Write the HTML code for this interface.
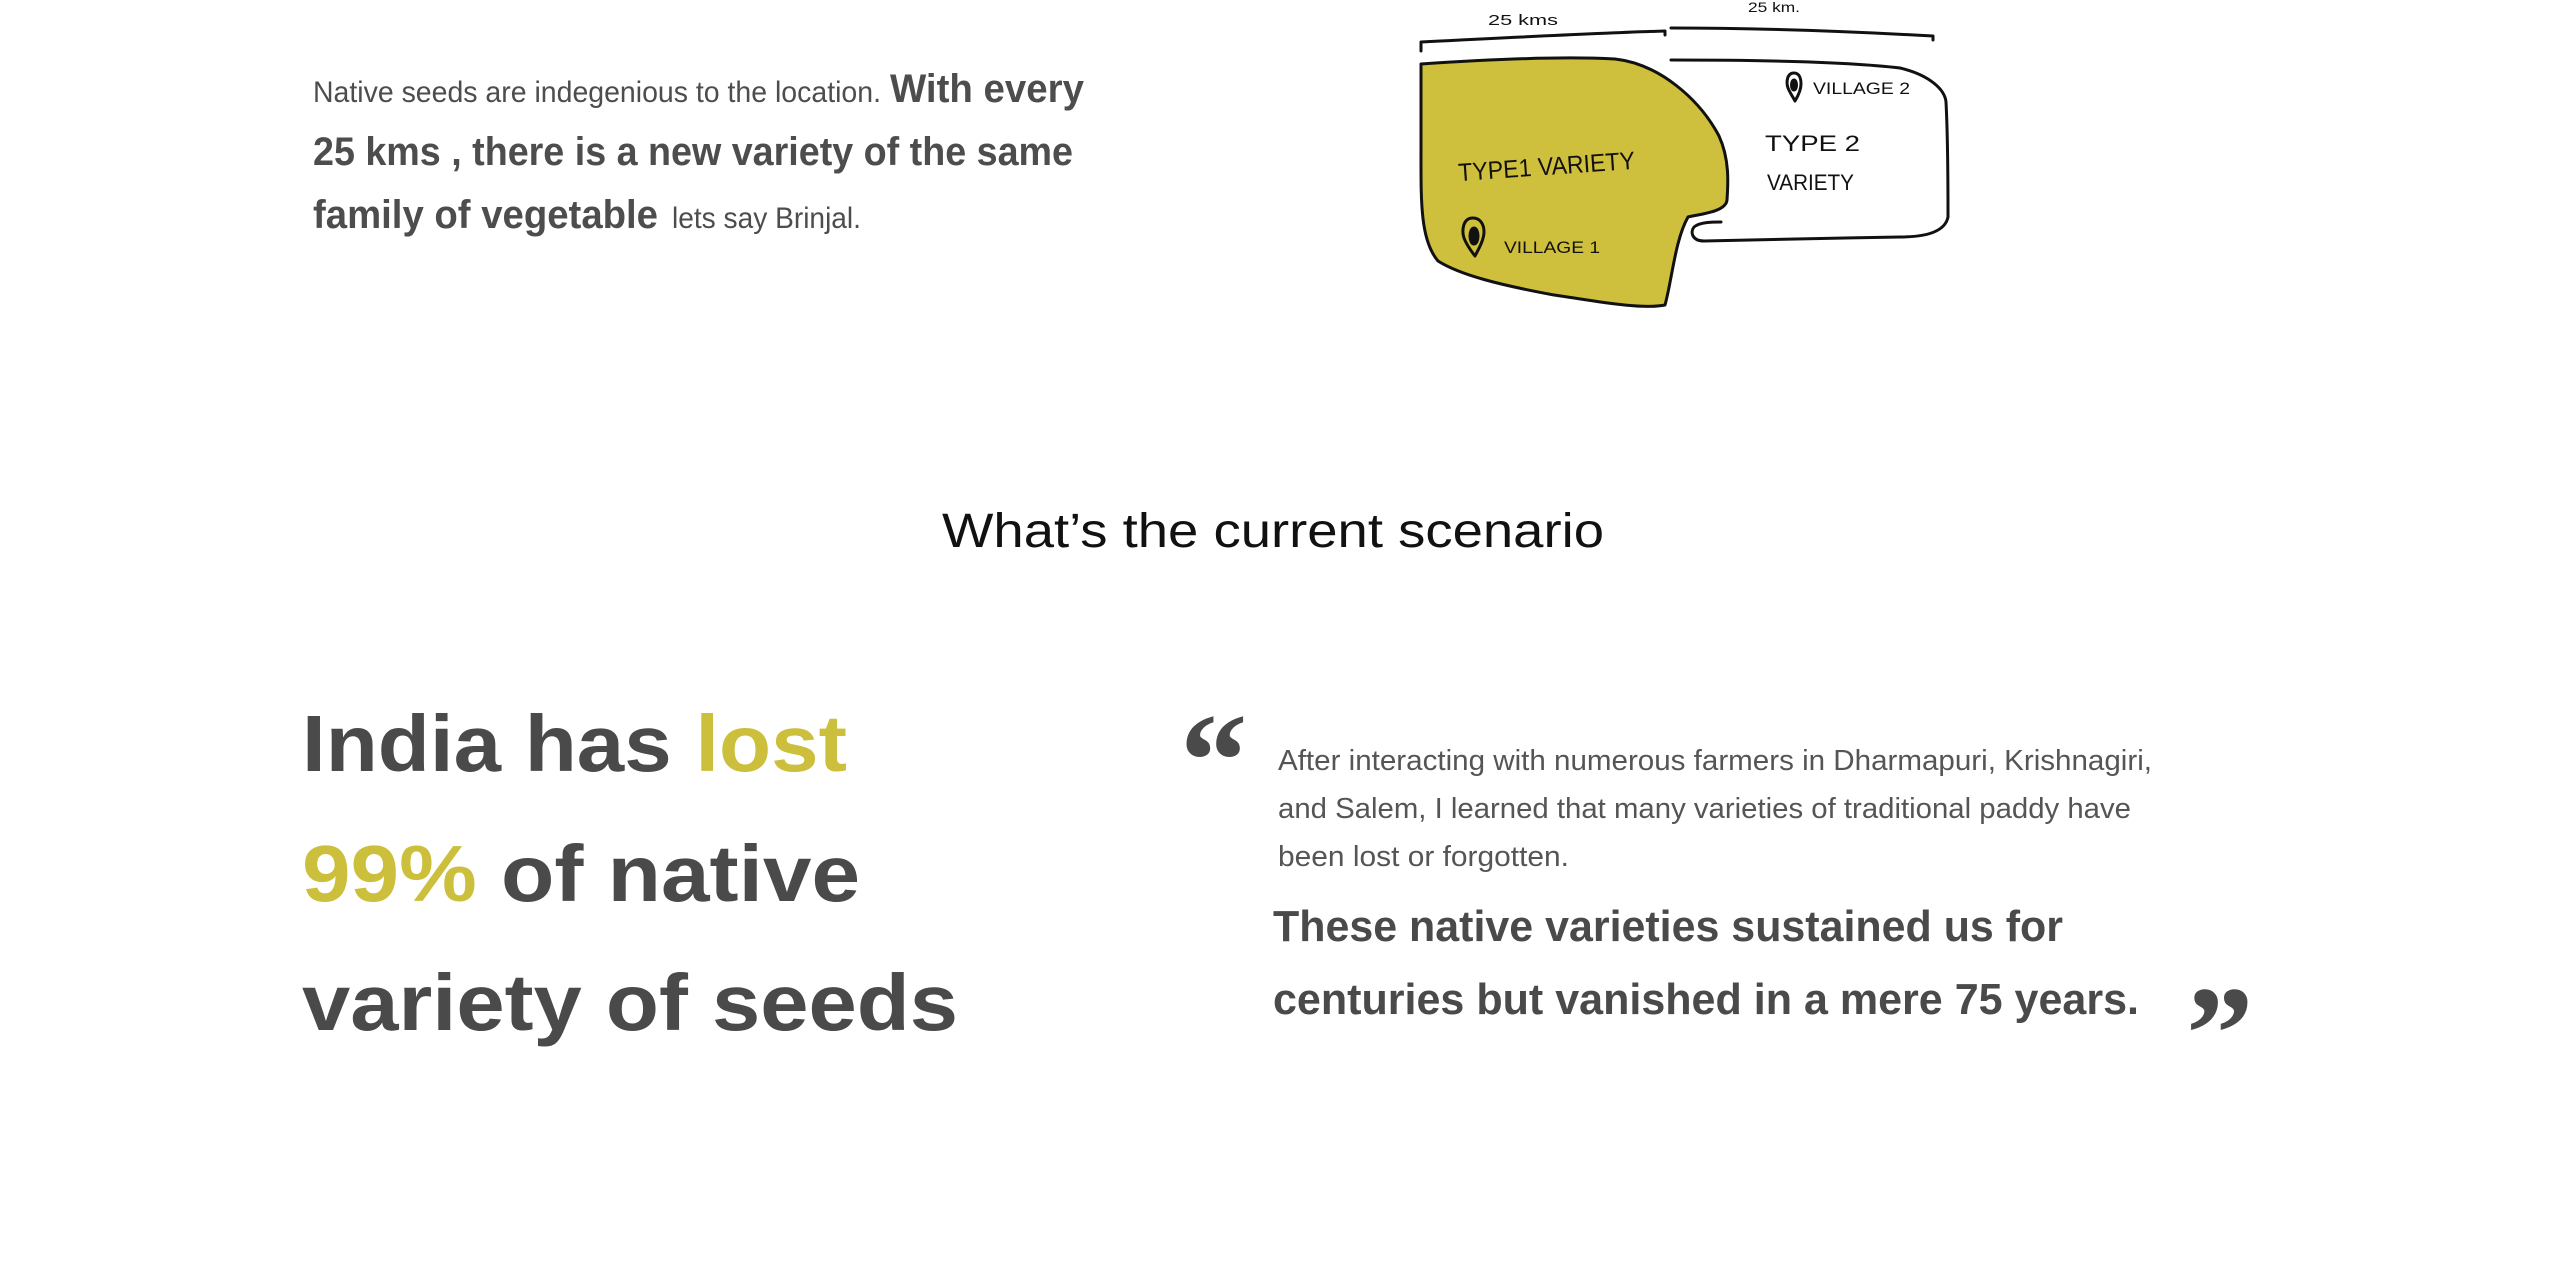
<!DOCTYPE html>
<html><head><meta charset="utf-8"><style>
html,body{margin:0;padding:0;background:#fff;}
svg{display:block;}
</style></head><body>
<svg width="2560" height="1263" viewBox="0 0 2560 1263" xmlns="http://www.w3.org/2000/svg">
<rect width="2560" height="1263" fill="#fff"/>
<g fill="#4d4d4d" font-family="Liberation Sans, sans-serif">
<text x="313" y="102" font-size="30" textLength="568" lengthAdjust="spacingAndGlyphs">Native seeds are indegenious to the location.</text>
<text x="890" y="102" font-size="40" font-weight="bold" textLength="194" lengthAdjust="spacingAndGlyphs">With every</text>
<text x="313" y="165" font-size="40" font-weight="bold" textLength="760" lengthAdjust="spacingAndGlyphs">25 kms , there is a new variety of the same</text>
<text x="313" y="228" font-size="40" font-weight="bold" textLength="345" lengthAdjust="spacingAndGlyphs">family of vegetable</text>
<text x="672" y="228" font-size="30" textLength="189" lengthAdjust="spacingAndGlyphs">lets say Brinjal.</text>
</g>
<g fill="none" stroke="#111" stroke-width="3" stroke-linecap="round" stroke-linejoin="round">
<path d="M1421 64 C1480 60 1560 56 1615 59 C1660 64 1700 100 1719 136 C1730 160 1728 185 1727 200 C1726 212 1700 214 1688 217 C1675 240 1672 280 1665 305 C1640 310 1590 300 1554 295 C1500 285 1460 275 1438 261 C1420 240 1421 200 1421 150 Z" fill="#cebf3d"/>
<path d="M1671 60 C1760 60 1850 62 1900 68 C1930 75 1945 90 1946 102 C1948 140 1948 190 1948 217 C1945 232 1925 237 1900 237 C1830 238 1750 240 1704 241 C1692 241 1690 232 1694 227 C1700 222 1712 222 1721 222"/>
<path d="M1421 51 L1421 42 C1500 38 1600 33 1665 31 L1665 35 M1671 28 C1760 28 1860 32 1933 36 L1933 40"/>
<path d="M1473 218 C1462 218 1462 232 1464 238 C1467 246 1472 252 1475 256 C1478 250 1484 240 1484 232 C1484 224 1480 218 1473 218 Z"/>
<ellipse cx="1474" cy="236" rx="4" ry="8" fill="#111"/>
<path d="M1794 73 C1787 73 1786 82 1788 88 C1790 93 1793 97 1795 101 C1798 96 1801 90 1801 84 C1801 78 1799 73 1794 73 Z"/>
<ellipse cx="1794" cy="85" rx="2.5" ry="5" fill="#111"/>
</g>
<g fill="#111" font-family="Liberation Sans, sans-serif">
<text x="1488" y="25" font-size="15" textLength="70" lengthAdjust="spacingAndGlyphs">25 kms</text>
<text x="1748" y="12" font-size="14" textLength="52" lengthAdjust="spacingAndGlyphs">25 km.</text>
<text x="1458" y="175" font-size="25" textLength="177" lengthAdjust="spacingAndGlyphs" transform="rotate(-4 1546 165)">TYPE1 VARIETY</text>
<text x="1504" y="253" font-size="17" textLength="96" lengthAdjust="spacingAndGlyphs">VILLAGE 1</text>
<text x="1813" y="94" font-size="17" textLength="97" lengthAdjust="spacingAndGlyphs">VILLAGE 2</text>
<text x="1765" y="151" font-size="22" textLength="95" lengthAdjust="spacingAndGlyphs">TYPE 2</text>
<text x="1767" y="190" font-size="22" textLength="87" lengthAdjust="spacingAndGlyphs">VARIETY</text>
</g>
<text x="942" y="547" font-family="Liberation Sans, sans-serif" font-size="48" fill="#111" textLength="662" lengthAdjust="spacingAndGlyphs">What’s the current scenario</text>
<g font-family="Liberation Sans, sans-serif" font-weight="bold" font-size="80" fill="#4a4a4a">
<text x="302" y="771" textLength="545" lengthAdjust="spacingAndGlyphs">India has <tspan fill="#cbbf3b">lost</tspan></text>
<text x="302" y="901" textLength="558" lengthAdjust="spacingAndGlyphs"><tspan fill="#cbbf3b">99%</tspan> of native</text>
<text x="302" y="1030" textLength="656" lengthAdjust="spacingAndGlyphs">variety of seeds</text>
</g>
<g font-family="Liberation Serif, serif" font-weight="bold" fill="#4a4a4a" font-size="135">
<text x="1180" y="806">“</text>
<text x="2186" y="1079">”</text>
</g>
<g font-family="Liberation Sans, sans-serif" fill="#555">
<text x="1278" y="770" font-size="29" textLength="874" lengthAdjust="spacingAndGlyphs">After interacting with numerous farmers in Dharmapuri, Krishnagiri,</text>
<text x="1278" y="818" font-size="29" textLength="853" lengthAdjust="spacingAndGlyphs">and Salem, I learned that many varieties of traditional paddy have</text>
<text x="1278" y="866" font-size="29" textLength="291" lengthAdjust="spacingAndGlyphs">been lost or forgotten.</text>
</g>
<g font-family="Liberation Sans, sans-serif" font-weight="bold" fill="#4a4a4a" font-size="44">
<text x="1273" y="941" textLength="790" lengthAdjust="spacingAndGlyphs">These native varieties sustained us for</text>
<text x="1273" y="1014" textLength="866" lengthAdjust="spacingAndGlyphs">centuries but vanished in a mere 75 years.</text>
</g>
</svg>
</body></html>
